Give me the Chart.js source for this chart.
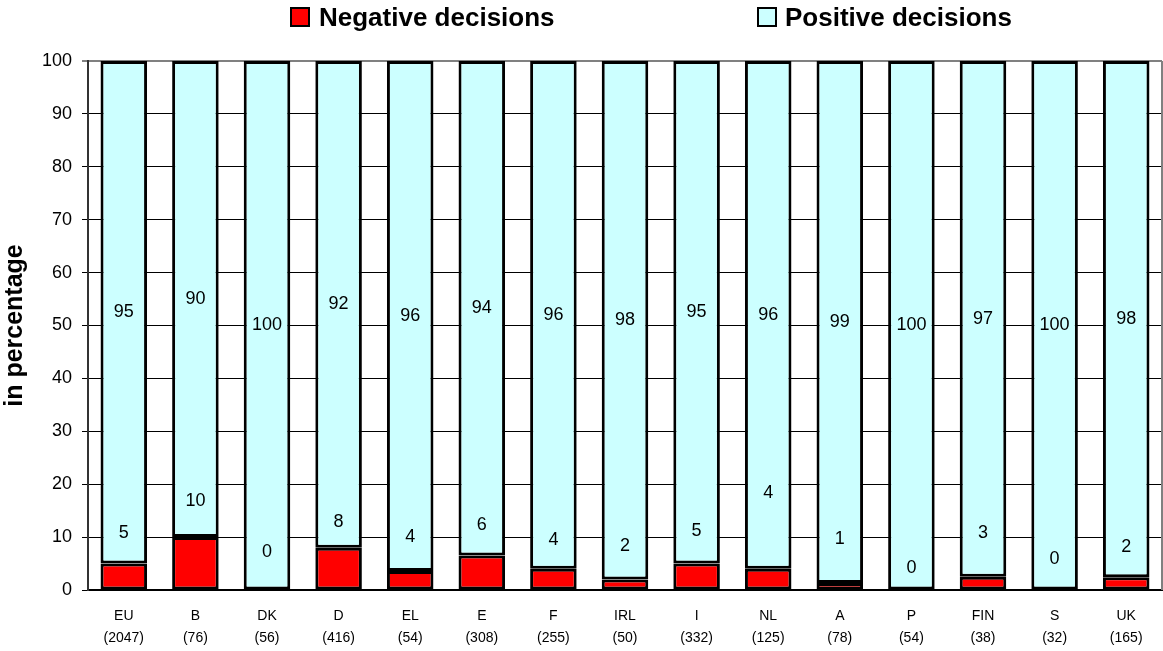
<!DOCTYPE html>
<html>
<head>
<meta charset="utf-8">
<script src="https://cdn.jsdelivr.net/npm/chart.js@4.4.1/dist/chart.umd.min.js"></script>
<style>
  html, body { margin: 0; padding: 0; background: #fff; }
  #wrap { position: relative; width: 1163px; height: 651px; }
</style>
</head>
<body>
<div id="wrap"><canvas id="c" width="1163" height="651"></canvas></div>
<script>
// ---- data ----
const categories = ['EU', 'B', 'DK', 'D', 'EL', 'E', 'F', 'IRL', 'I', 'NL', 'A', 'P', 'FIN', 'S', 'UK'];
const counts = ['(2047)', '(76)', '(56)', '(416)', '(54)', '(308)', '(255)', '(50)', '(332)', '(125)', '(78)', '(54)', '(38)', '(32)', '(165)'];
const negativeValues = [5.0, 10.0, 0, 8.0, 3.6, 6.5, 4.0, 2.0, 5.0, 4.0, 1.3, 0, 2.5, 0, 2.4];
const positiveValues = [95.0, 90.0, 100, 92.0, 96.4, 93.5, 96.0, 98.0, 95.0, 96.0, 98.7, 100, 97.5, 100, 97.6];
const negativeLabels = ['5', '10', '0', '8', '4', '6', '4', '2', '5', '4', '1', '0', '3', '0', '2'];
const positiveLabels = ['95', '90', '100', '92', '96', '94', '96', '98', '95', '96', '99', '100', '97', '100', '98'];
// vertical position (in % units) where each negative label was placed in the original
const negativeLabelPos = [10.7, 16.8, 7.2, 12.9, 10.1, 12.2, 9.5, 8.3, 11.2, 18.3, 9.6, 4.1, 10.7, 5.8, 8.1];
const seriesNames = ['Negative decisions', 'Positive decisions'];
const yTicks = [0, 10, 20, 30, 40, 50, 60, 70, 80, 90, 100];

const FONT = 'Arial, "Liberation Sans", Helvetica, sans-serif';
const RED = '#FF0000';
const CYAN = '#CCFFFF';

const valueLabels = {
  id: 'valueLabels',
  afterDatasetsDraw(chart) {
    const ctx = chart.ctx;
    const y = chart.scales.y;
    ctx.save();
    ctx.fillStyle = '#000';
    ctx.font = '18px ' + FONT;
    ctx.textAlign = 'center';
    ctx.textBaseline = 'middle';
    const negMeta = chart.getDatasetMeta(0);
    const posMeta = chart.getDatasetMeta(1);
    negMeta.data.forEach((el, i) => {
      ctx.fillText(negativeLabels[i], el.x, y.getPixelForValue(negativeLabelPos[i]));
    });
    posMeta.data.forEach((el, i) => {
      ctx.fillText(positiveLabels[i], el.x, (el.y + el.base) / 2);
    });
    ctx.restore();
  }
};

const frame = {
  id: 'frame',
  beforeDatasetsDraw(chart) {
    const { ctx, chartArea } = chart;
    ctx.save();
    ctx.strokeStyle = '#808080';
    ctx.lineWidth = 2;
    ctx.beginPath();
    ctx.moveTo(chartArea.right, chartArea.top);
    ctx.lineTo(chartArea.right, chartArea.bottom);
    ctx.stroke();
    ctx.restore();
  }
};

const customLegend = {
  id: 'customLegend',
  afterDraw(chart) {
    const ctx = chart.ctx;
    const items = [
      { name: seriesNames[0], color: RED, boxX: 291, textX: 319 },
      { name: seriesNames[1], color: CYAN, boxX: 758, textX: 785 }
    ];
    ctx.save();
    ctx.font = 'bold 26px ' + FONT;
    ctx.textBaseline = 'alphabetic';
    ctx.textAlign = 'left';
    items.forEach(it => {
      ctx.fillStyle = it.color;
      ctx.fillRect(it.boxX, 8, 18, 18);
      ctx.strokeStyle = '#000';
      ctx.lineWidth = 2;
      ctx.strokeRect(it.boxX, 8, 18, 18);
      ctx.fillStyle = '#000';
      ctx.fillText(it.name, it.textX, 26);
    });
    ctx.restore();
  }
};

new Chart(document.getElementById('c'), {
  type: 'bar',
  data: {
    labels: categories.map((c, i) => [c, counts[i]]),
    datasets: [
      {
        label: seriesNames[0],
        data: negativeValues,
        backgroundColor: RED,
        borderColor: '#000',
        borderWidth: 3,
        borderSkipped: false,
        inflateAmount: 0,
        barPercentage: 0.65,
        categoryPercentage: 1.0
      },
      {
        label: seriesNames[1],
        data: positiveValues,
        backgroundColor: CYAN,
        borderColor: '#000',
        borderWidth: 3,
        borderSkipped: false,
        inflateAmount: 0,
        barPercentage: 0.65,
        categoryPercentage: 1.0
      }
    ]
  },
  options: {
    responsive: false,
    animation: false,
    layout: { padding: { top: 61, right: 1, left: 0, bottom: 0 } },
    plugins: {
      legend: { display: false },
      tooltip: { enabled: false }
    },
    scales: {
      x: {
        stacked: true,
        grid: { display: false, drawTicks: false },
        border: { display: true, color: '#000', width: 2 },
        ticks: {
          color: '#000',
          font: { family: FONT, size: 14, lineHeight: 1.57 },
          padding: 15,
          maxRotation: 0,
          autoSkip: false
        },
        afterFit(s) { s.height = 61; }
      },
      y: {
        stacked: true,
        min: 0,
        max: 100,
        afterBuildTicks(s) { s.ticks = yTicks.map(v => ({ value: v })); },
        ticks: {
          color: '#000',
          font: { family: FONT, size: 18 },
          padding: 10
        },
        grid: {
          color: c => (c.tick && c.tick.value === 100 ? '#808080' : '#000'),
          lineWidth: c => (c.tick && c.tick.value === 100 ? 2 : 1),
          tickLength: 6
        },
        border: { color: '#333', width: 2 },
        title: {
          display: true,
          text: 'in percentage',
          color: '#000',
          font: { family: FONT, size: 25, weight: 'bold' },
          padding: 0
        },
        afterFit(s) { s.width = 88; }
      }
    }
  },
  plugins: [frame, valueLabels, customLegend]
});
</script>
</body>
</html>
